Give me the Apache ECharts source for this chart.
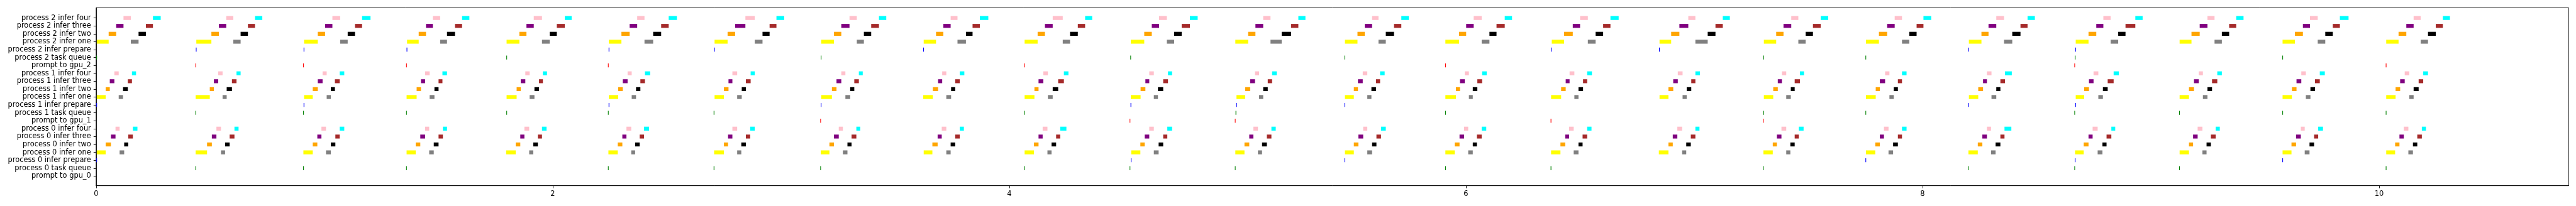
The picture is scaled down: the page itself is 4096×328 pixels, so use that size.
<!DOCTYPE html>
<html>
<head>
<meta charset="utf-8">
<script src="https://cdn.jsdelivr.net/npm/echarts@6/dist/echarts.min.js"></script>
<style>
html,body{margin:0;padding:0;background:#fff;}
#chart{width:4096px;height:328px;}
</style>
</head>
<body>
<div id="chart"></div>
<script>
// Row labels, bottom (0) to top (20)
const categories = [
  'prompt to gpu_0','process 0 task queue','process 0 infer prepare','process 0 infer one','process 0 infer two','process 0 infer three','process 0 infer four',
  'prompt to gpu_1','process 1 task queue','process 1 infer prepare','process 1 infer one','process 1 infer two','process 1 infer three','process 1 infer four',
  'prompt to gpu_2','process 2 task queue','process 2 infer prepare','process 2 infer one','process 2 infer two','process 2 infer three','process 2 infer four'
];
const xTicks = [0, 2, 4, 6, 8, 10];

// Stage sequence inside every cycle: one, two, three, four, one, two, three, four
const stageNames = ['one','two','three','four','one','two','three','four'];
const stageColors = ['#ffff00','#ffa500','#800080','#ffc0cb','#808080','#000000','#a52a2a','#00ffff'];

// Each cycle: 9 boundary times (s) of the 8 consecutive stages
const p2Cycles = [
  [0.003,0.055,0.088,0.120,0.152,0.186,0.218,0.249,0.283],
  [0.439,0.505,0.538,0.570,0.601,0.633,0.665,0.696,0.728],
  [0.911,0.971,1.003,1.035,1.069,1.102,1.134,1.165,1.202],
  [1.362,1.413,1.445,1.475,1.507,1.537,1.572,1.603,1.635],
  [1.798,1.854,1.885,1.917,1.953,1.987,2.018,2.053,2.083],
  [2.246,2.301,2.337,2.370,2.402,2.440,2.475,2.508,2.544],
  [2.709,2.766,2.799,2.844,2.885,2.919,2.950,2.980,3.014],
  [3.176,3.232,3.264,3.300,3.332,3.363,3.395,3.429,3.461],
  [3.625,3.679,3.711,3.743,3.773,3.810,3.839,3.871,3.908],
  [4.067,4.124,4.156,4.190,4.234,4.266,4.300,4.332,4.363],
  [4.532,4.591,4.624,4.656,4.690,4.722,4.755,4.791,4.825],
  [4.990,5.046,5.078,5.112,5.144,5.193,5.234,5.266,5.297],
  [5.470,5.525,5.557,5.589,5.617,5.649,5.685,5.717,5.750],
  [5.910,5.970,6.001,6.034,6.069,6.103,6.134,6.170,6.202],
  [6.376,6.430,6.468,6.500,6.534,6.568,6.601,6.633,6.669],
  [6.848,6.899,6.935,6.974,7.005,7.059,7.093,7.125,7.156],
  [7.305,7.359,7.391,7.425,7.456,7.488,7.520,7.554,7.587],
  [7.752,7.809,7.845,7.878,7.910,7.942,7.974,8.004,8.038],
  [8.203,8.258,8.289,8.323,8.357,8.393,8.429,8.460,8.492],
  [8.671,8.727,8.761,8.792,8.824,8.857,8.889,8.932,8.964],
  [9.126,9.178,9.214,9.248,9.279,9.311,9.343,9.374,9.406],
  [9.577,9.631,9.666,9.697,9.731,9.764,9.797,9.828,9.866],
  [10.031,10.085,10.119,10.151,10.182,10.214,10.248,10.279,10.310]
];
const p1Cycles = [
  [0.003,0.042,0.060,0.080,0.099,0.118,0.139,0.157,0.175],
  [0.436,0.498,0.516,0.535,0.554,0.572,0.595,0.615,0.633],
  [0.911,0.949,0.971,0.992,1.010,1.028,1.046,1.067,1.087],
  [1.360,1.404,1.423,1.441,1.461,1.482,1.500,1.517,1.537],
  [1.798,1.842,1.860,1.880,1.899,1.920,1.940,1.957,1.975],
  [2.246,2.287,2.307,2.328,2.346,2.365,2.384,2.404,2.427],
  [2.709,2.750,2.770,2.787,2.808,2.828,2.846,2.867,2.885],
  [3.176,3.223,3.243,3.264,3.282,3.303,3.321,3.341,3.358],
  [3.623,3.665,3.688,3.706,3.724,3.745,3.763,3.783,3.803],
  [4.067,4.110,4.128,4.149,4.169,4.190,4.214,4.239,4.259],
  [4.532,4.575,4.596,4.613,4.633,4.651,4.674,4.695,4.713],
  [4.995,5.033,5.055,5.076,5.094,5.112,5.132,5.151,5.171],
  [5.470,5.509,5.527,5.548,5.568,5.586,5.606,5.624,5.644],
  [5.910,5.956,5.974,5.995,6.013,6.030,6.050,6.071,6.091],
  [6.373,6.417,6.437,6.454,6.475,6.493,6.513,6.531,6.552],
  [6.848,6.887,6.908,6.928,6.949,6.967,6.987,7.005,7.025],
  [7.305,7.346,7.366,7.384,7.403,7.423,7.440,7.463,7.481],
  [7.752,7.795,7.813,7.836,7.855,7.874,7.892,7.910,7.930],
  [8.203,8.244,8.265,8.282,8.302,8.323,8.341,8.361,8.391],
  [8.671,8.708,8.729,8.749,8.770,8.790,8.811,8.837,8.860],
  [9.126,9.167,9.189,9.210,9.228,9.248,9.268,9.291,9.311],
  [9.577,9.618,9.638,9.659,9.679,9.699,9.719,9.740,9.762],
  [10.031,10.072,10.092,10.112,10.132,10.151,10.173,10.193,10.214]
];
const p0Cycles = [
  [0.003,0.042,0.065,0.085,0.103,0.123,0.141,0.161,0.181],
  [0.436,0.486,0.507,0.527,0.547,0.565,0.585,0.606,0.624],
  [0.908,0.949,0.969,0.987,1.007,1.028,1.048,1.067,1.087],
  [1.360,1.400,1.420,1.441,1.459,1.479,1.500,1.519,1.537],
  [1.796,1.838,1.858,1.876,1.897,1.915,1.935,1.953,1.973],
  [2.244,2.285,2.305,2.323,2.344,2.361,2.381,2.400,2.422],
  [2.707,2.750,2.768,2.787,2.808,2.826,2.846,2.865,2.885],
  [3.174,3.212,3.232,3.253,3.271,3.291,3.309,3.330,3.347],
  [3.625,3.663,3.686,3.704,3.724,3.743,3.763,3.783,3.801],
  [4.067,4.108,4.128,4.146,4.167,4.185,4.205,4.223,4.250],
  [4.534,4.574,4.593,4.613,4.633,4.654,4.674,4.692,4.713],
  [4.990,5.030,5.051,5.069,5.089,5.107,5.128,5.148,5.167],
  [5.470,5.509,5.529,5.550,5.568,5.589,5.608,5.628,5.649],
  [5.910,5.951,5.972,5.992,6.010,6.030,6.048,6.069,6.089],
  [6.373,6.414,6.435,6.452,6.472,6.493,6.511,6.531,6.550],
  [6.845,6.887,6.906,6.926,6.947,6.965,6.985,7.005,7.023],
  [7.303,7.344,7.362,7.382,7.403,7.421,7.440,7.458,7.479],
  [7.752,7.793,7.813,7.831,7.851,7.871,7.892,7.910,7.930],
  [8.201,8.242,8.262,8.282,8.300,8.320,8.341,8.359,8.389],
  [8.668,8.706,8.727,8.745,8.767,8.788,8.806,8.827,8.844],
  [9.126,9.167,9.185,9.205,9.226,9.244,9.263,9.284,9.302],
  [9.577,9.616,9.636,9.657,9.674,9.695,9.715,9.733,9.754],
  [10.031,10.070,10.089,10.108,10.128,10.148,10.167,10.187,10.205]
];

// Short events (start times, s)
const markDuration = 0.003;
const gpu2Prompt = [0.435,0.907,1.358,2.242,4.065,5.909,8.665,10.029];
const p2Queue = [0.001,1.797,3.174,4.530,5.468,7.303,7.750,8.667,9.576];
const p2Prepare = [0.437,0.909,1.360,2.245,2.707,3.623,6.374,6.846,8.201,8.669];
const gpu1Prompt = [3.172,4.527,4.988,6.371,7.301];
const p1Queue = [0.435,0.907,1.358,1.797,2.242,2.705,4.065,4.991,5.909,7.303,7.750,8.665,9.124,9.576,10.029];
const p1Prepare = [0.001,0.909,2.245,3.174,4.531,4.994,5.468,8.201,8.669];
const gpu0Prompt = [];
const p0Queue = [0.435,0.907,1.358,2.242,2.705,3.172,4.065,4.527,4.988,5.909,6.371,7.301,8.199,8.665,9.124,10.029];
const p0Prepare = [0.001,4.532,5.468,7.750,8.667,9.576];

const promptColor = '#ff0000', queueColor = '#008000', prepareColor = '#0000ff';

// ---- build items: [row, start, end, color]
const items = [];
function addProcess(cycles, p) {
  const base = p * 7;
  cycles.forEach(b => {
    for (let s = 0; s < 8; s++) {
      const row = base + 3 + ['one','two','three','four'].indexOf(stageNames[s]);
      items.push([row, b[s], b[s + 1], stageColors[s]]);
    }
  });
}
function addMarks(times, row, color) {
  times.forEach(t => items.push([row, t, t + markDuration, color]));
}
addProcess(p0Cycles, 0); addProcess(p1Cycles, 1); addProcess(p2Cycles, 2);
addMarks(gpu0Prompt, 0, promptColor); addMarks(p0Queue, 1, queueColor); addMarks(p0Prepare, 2, prepareColor);
addMarks(gpu1Prompt, 7, promptColor); addMarks(p1Queue, 8, queueColor); addMarks(p1Prepare, 9, prepareColor);
addMarks(gpu2Prompt, 14, promptColor); addMarks(p2Queue, 15, queueColor); addMarks(p2Prepare, 16, prepareColor);

const BAR_H = 0.5;
const FONT = 'DejaVu Sans';
const chart = echarts.init(document.getElementById('chart'), null, {renderer: 'canvas'});
chart.setOption({
  animation: false,
  backgroundColor: '#ffffff',
  grid: {left: 152.8, right: 11.7, top: 12.3, bottom: 32.3, containLabel: false, outerBoundsMode: 'none',
         show: true, borderColor: '#000', borderWidth: 0.9, backgroundColor: 'transparent'},
  xAxis: {
    type: 'value', min: 0, max: 10.83,
    splitLine: {show: false},
    axisLine: {show: true, onZero: false, lineStyle: {color: '#000', width: 0.9}},
    axisTick: {show: true, length: 4, lineStyle: {color: '#000', width: 0.9}, customValues: xTicks},
    axisLabel: {show: true, margin: 8, color: '#000', fontFamily: FONT, fontSize: 11.4, customValues: xTicks,
                formatter: v => String(v)}
  },
  yAxis: {
    type: 'value', min: -1.22, max: 21.30,
    splitLine: {show: false},
    axisLine: {show: true, onZero: false, lineStyle: {color: '#000', width: 0.9}},
    axisTick: {show: true, length: 4, lineStyle: {color: '#000', width: 0.9}, customValues: categories.map((c, i) => i)},
    axisLabel: {show: true, margin: 8, color: '#000', fontFamily: FONT, fontSize: 11.4,
                customValues: categories.map((c, i) => i),
                formatter: v => categories[Math.round(v)]}
  },
  series: [{
    type: 'custom',
    renderItem: function (params, api) {
      const row = api.value(0), s = api.value(1), e = api.value(2);
      const a = api.coord([s, row + BAR_H / 2]);
      const b = api.coord([e, row - BAR_H / 2]);
      let w = b[0] - a[0];
      if (w < 1) w = 1;
      return {type: 'rect', shape: {x: a[0], y: a[1], width: w, height: b[1] - a[1]},
              style: {fill: items[params.dataIndex][3]}};
    },
    encode: {x: [1, 2], y: 0},
    data: items.map(d => [d[0], d[1], d[2]])
  }]
});
</script>
</body>
</html>
